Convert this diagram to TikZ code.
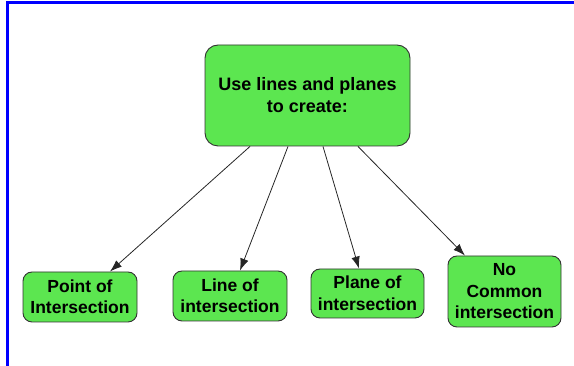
\documentclass[tikz,border=0pt]{standalone}
\usepackage{fontspec}
\setmainfont{Liberation Sans}
\usetikzlibrary{arrows.meta}
\definecolor{boxgreen}{RGB}{92,230,80}
\definecolor{boxedge}{RGB}{50,50,50}
\begin{document}
\begin{tikzpicture}[x=1pt,y=1pt,
  card/.style={draw=boxedge, line width=0.9pt, fill=boxgreen, rounded corners=9pt,
    align=center, inner sep=0pt, font=\fontsize{17.5}{21.5}\selectfont\bfseries},
  link/.style={draw=black!85, line width=0.8pt, -{Latex[length=12pt,width=8.5pt]}},
  frame/.style={draw=blue, line width=3pt}]
\useasboundingbox (0,0) rectangle (574,366);
% frame along the top and left edges
\coordinate (ftop) at (574,363.5);
\coordinate (fcorner) at (7,363.5);
\coordinate (fbot) at (7,0);
\draw[frame] (ftop) -- (fcorner) -- (fbot);
% boxes
\node[card, minimum width=205pt, minimum height=101pt, rounded corners=13pt,
  font=\fontsize{18}{22}\selectfont\bfseries] (main) at (307.5,270.5)
  {Use lines and planes\\to create:};
\node[card, minimum width=114pt, minimum height=50pt] (point) at (80,69)
  {Point of\\Intersection};
\node[card, minimum width=114pt, minimum height=50pt] (line) at (230,70)
  {Line of\\intersection};
\node[card, minimum width=113pt, minimum height=49pt] (plane) at (367.5,72.5)
  {Plane of\\intersection};
\node[card, minimum width=113pt, minimum height=71pt] (none) at (504.5,74.5)
  {No\\Common\\intersection};
% connectors
\draw[link] ([xshift=-57.5pt]main.south) -- ([xshift=30pt]point.north);
\draw[link] ([xshift=-19.5pt]main.south) -- ([xshift=10pt]line.north);
\draw[link] ([xshift=15.5pt]main.south) -- ([xshift=-8.5pt]plane.north);
\draw[link] ([xshift=50.5pt]main.south) -- ([xshift=-39.5pt]none.north);
\end{tikzpicture}
\end{document}
